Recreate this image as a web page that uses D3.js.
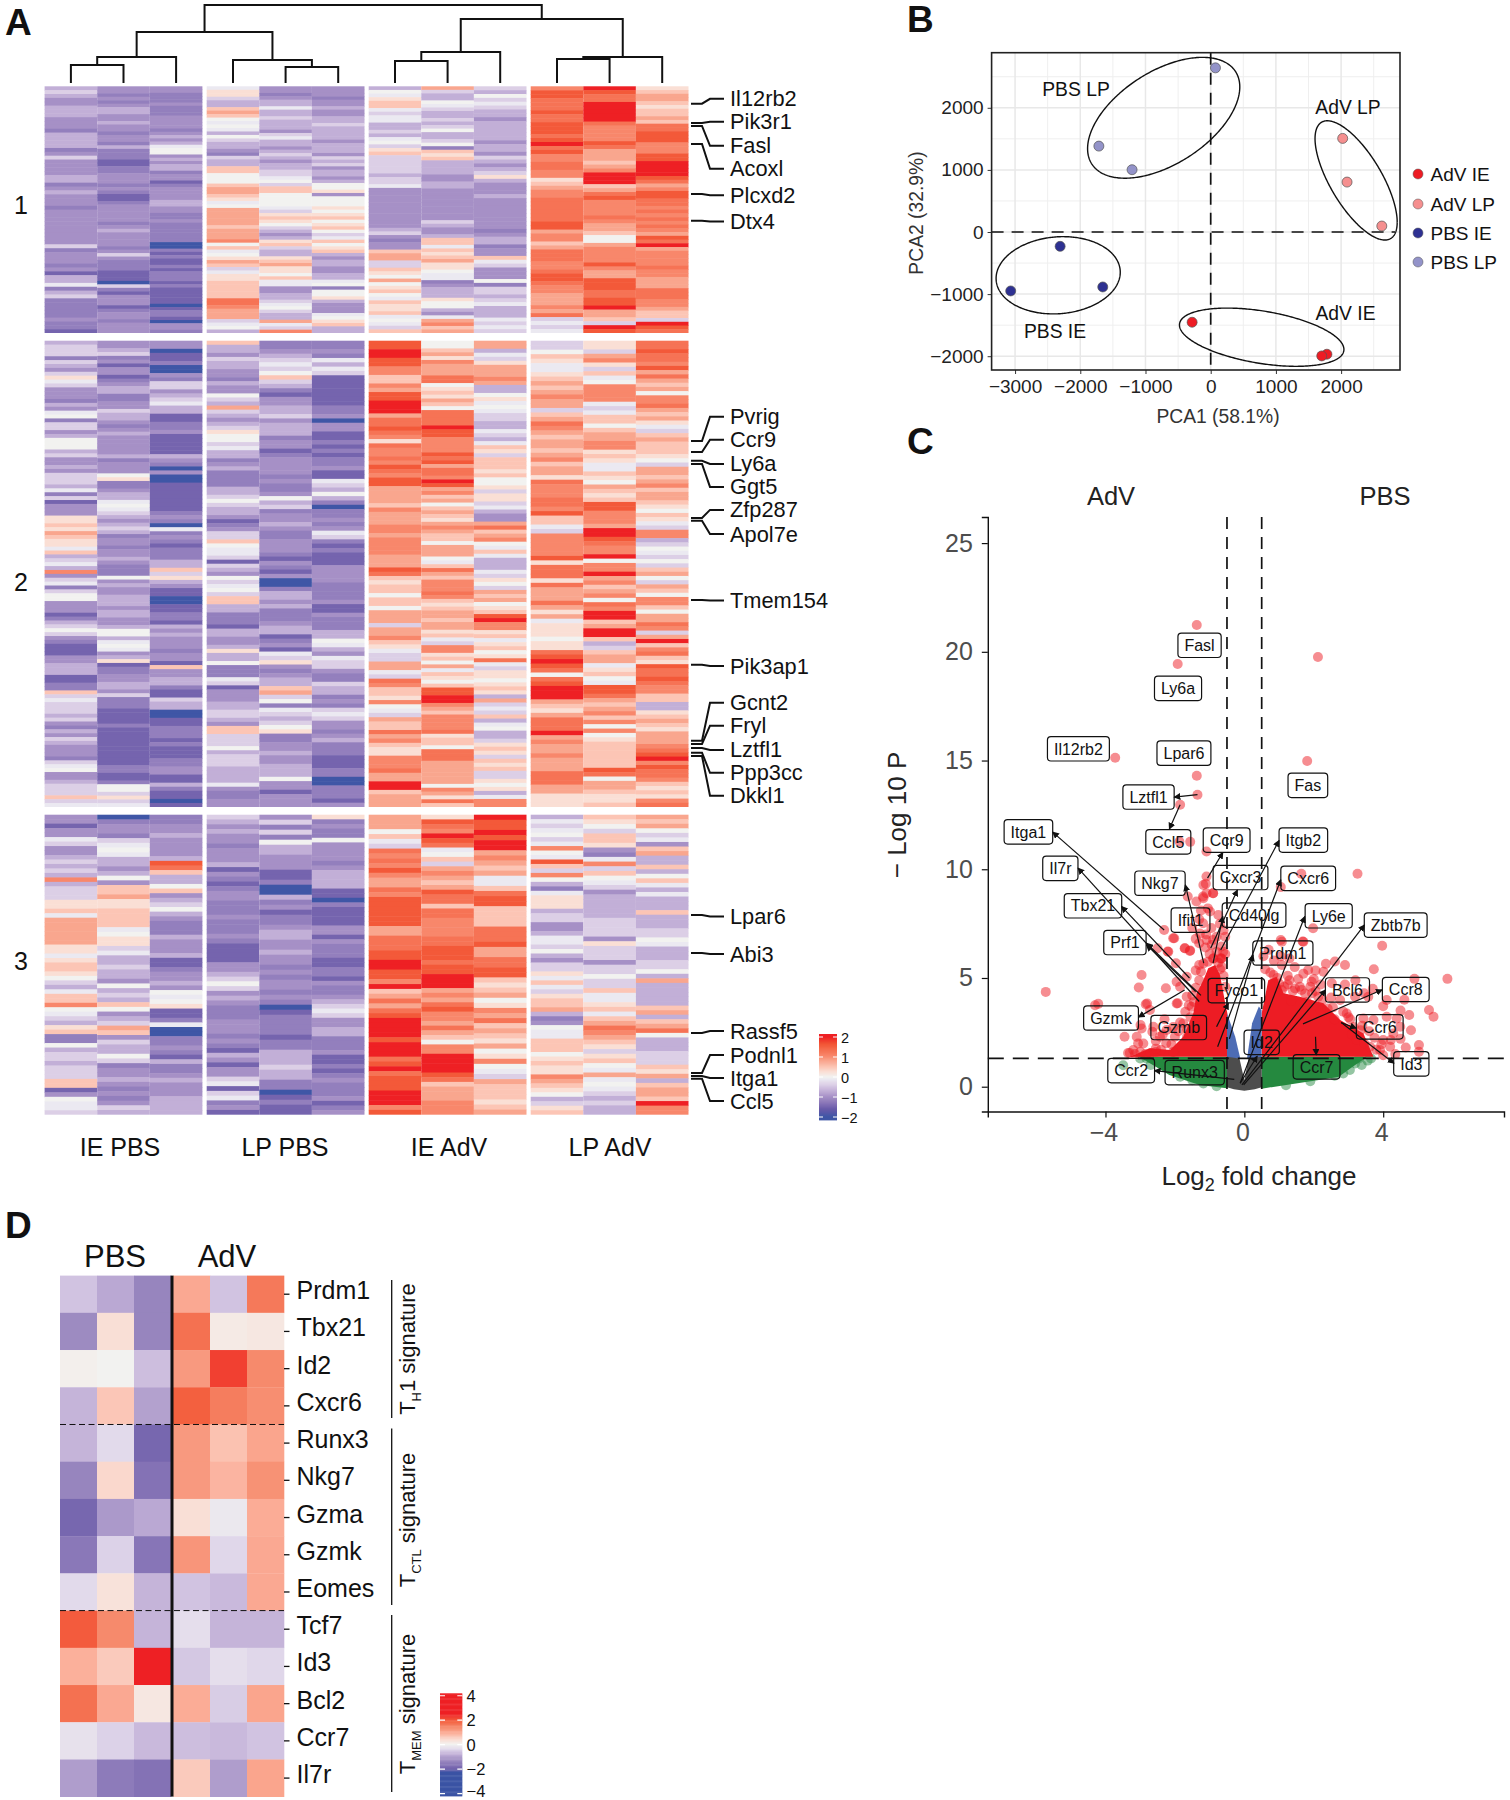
<!DOCTYPE html>
<html><head><meta charset="utf-8">
<style>html,body{margin:0;padding:0;background:#fff}svg{display:block}text{font-family:"Liberation Sans",Arial,sans-serif}</style>
<script src="https://cdn.jsdelivr.net/npm/d3@7/dist/d3.min.js"></script>
</head><body><svg id="fig" width="1510" height="1800"></svg>
<script>
// ---------- Panel A data: z-score levels read per column, top to bottom ----------
const levelValues = {a:-2,b:-1.5,c:-1.2,d:-1,e:-.7,f:-.4,g:-.12,h:0,i:.25,j:.5,k:.8,l:1.05,m:1.3,n:1.6,o:2};
const heatGroups = ["IE PBS","LP PBS","IE AdV","LP AdV"];
const cluster1 = [
"efeddeeedddceeeecdfddddeecdedddcdddddddddfcdddcdbeegcefcccccdccb",
"ddcdcdeeddeddcddcecccbbccdddcdcbbcdddddcdeddddcdfdcccbbbafcbdddbcddcddd",
"ddcccdcccddddcdedeghhdedeecddbcddddeeddccdccccccaacbcbbcbcccbcbbbbbabccbaddc",
"giifeejkjhghgehfeedcfeejjhhhjkkjighkkkkkjkkklhjghikjfgiijjjjjmmlkkkfghe",
"ddcdeegeefeeedfgeedefedeeffghfjjhhhhgfijihfedeijfeeijkiihjggddeefghfeekgfl",
"dddcddeddeefeeeedeeedfefdeedehhidhhhihijhijhfgjhijedeeddeeghchhiedddghijee",
"ehgijjgfggeefeghfijfffffeffgdddddddddddefdcddjkkffjihkhijhgjiijghgfj",
"kfeehgfeefefheefhcjijeeeeddeedddddddddfeddejjgjijkiihggcdeeeihhedgkljk",
"fehfgfeedeeeeedeedfedefiedddeddddddddcdeecddjgfdddhcffefgeeegfgf",
"lnnmmmnmmnnnmnomnllmmllijkllmmmmmmnnklljkmmmllmnnmllkkklkmfgfg",
"onmmooooomllllnmkkkjklooojkmnllllmlkkjhhkllllnlkknnnmmnnokkjfon",
"ijkkjijjkjmmnnnlllnnoooonmklnnmmlmlmlmlknmokllllmllkkkmmmllkjjfonm"
];
const cluster2 = [
"efffcfedfigfdddcedghcffdehhhefddedfffegcfbdddiijikjiigjefgeldfgcfhhdddbcefhfdcbbbddeeebbccjfgfffefdcedfedddcfghddefffjfg",
"ddefcdbddbcdeeccddfeedcdedddddecdddhiccdeeghgfedefecddcddedccchdeddeeedeeddehheghgdeibccddeedfcccbbbbcbbbbbbbbbbccbbchhfifg",
"ddabbcaadcffdefgeebbccdbbbbbedcadaabbbbbbbcdcagcdcbccceejfiedbbaabbccbededddcddbjddeecbbfeeaabbcccbcbbbccddbbecbbab",
"jeedfeeddceddhfekfedefihhfgeecdecccceefhfeedbcdffjhggfbfedhfghfjjeecccbeeddeieehcccgfbdddeeffedjjfffhefffeeeegdccdd",
"ccdefgfhjfecbddeefdeeecddbcddddcdccdhefcddedccdddcbdcbdaaceedecccdeebcdbgfidcdeejkfhcgfefhiccddeddeeehddbddd",
"ccdcgegfbbbbbbbccdaddbbcbcbccdbbgfehecaccdcdgfcbcbbbddddccccdbbdccceehgedgffdccfeecdcfgfddcdecccbbbccaacccbd",
"nnoonnlljjlknnoookmmnmlimllmlnmlnnkkkkjlkkkllkllllkkknmjijjhjjhkkkfkkljigffkkgfmljjilhgfkjjmkljiilllmkkoojkkk",
"hhjkilkkkmmhijikjhmmmmonnllllnmnkmmlonkljkhjkjiklkjjhkkkhgjmkjlllmljijkkjkkijgfllijhkgjihjnnoolkjllllmijjhmmmkkkkkkhlkimj",
"kkegfikkklkeehighgffeegfegjifjjjijhhifiifgeddkmjklhgjgeeegfihfkjkhijnollijgijhimgfiihijiekfgfjegheefijifjijffihiegll",
"ffhjiggijkjklkkfjkmlkjkkjkljkkimlllmmlnjjgflllllnimmmimkkkmkikgiiihiimnonmhmnoookjikmmmoklkklkkkmmmkkiii",
"iifklifjghllllgfgjjhjkkllijiggjihkjijnnlllkoonmllohllokljklhmloojkoojefjkkgijhgnnmkjkljlhlhijjjjjjnmhkkjiij",
"mmnmmlnkmkjkhllmkjkigfjkjjjihfkkjkljkkjihjigfllefhgfhfjkhfkjhlljhkkmlfkojlmjinmmnmlljjeeijkjikkklmnolnmmljijilm"
];
const cluster3 = [
"ddbddgfddefefelefffiijgkkkkkkiigijjihfegjjlhgfeijccheffefffjjbdhggf",
"acddcfghgeedehdjjkiijjjjghiifgeefeedhefejhdefkjdfeehfcddedcdcdfe",
"ccddeddddenmjeehjdefhedcccedddebbcddedhghibbcgaaccdcbeccdedddeeee",
"fededdcdddebdcbcddcccdcccdcbbbbddefhfdedcccdddcdcbedbddfgbfgcdb",
"dfcfcheedddbbcaaecdbccdeeddeddcdcddcdcabccccbcceeefeeccabcbb",
"icdcchddddcdeeeebbacbbbbddbdcccbbccbdccdefgfddeecccdbbcbcdcccdbcd",
"kkkhjgfmlmlnlkkmlnnnnnnkkmmmnnoonnlojkmkmnoooonooomnomnnnoooln",
"inmlonmghjfklkjknmmjmmllllmmnnnmnnoooklkmnllkmkjhlloooonmjkkklll",
"onnonooklkjkggjmnnjjjjmmmnkkmmnnjijkhilkmjkjikhilhgfkjjjijk",
"egfghfglhgnjflhecgiiieffddeggfhedffigjgfijjkecdhggjjjhijiilkjihefij",
"jihfjjidcglfjhgfdeeeeeffffdifffdffhffjggijgjkmlkjifijhgkghgfefee",
"kjkhfgdjkeejehjgegeeejeeeffhgeeeffhekeeeeejkejkmheeefffjikejkkjoll"
];

const geneLabelsA = ["Il12rb2","Pik3r1","Fasl","Acoxl","Plcxd2","Dtx4","Pvrig","Ccr9","Ly6a","Ggt5","Zfp287","Apol7e","Tmem154","Pik3ap1","Gcnt2","Fryl","Lztfl1","Ppp3cc","Dkkl1","Lpar6","Abi3","Rassf5","Podnl1","Itga1","Ccl5"];
// dendrogram merges: [left node, right node, height]; nodes 0-11 are leaves
const dendroMerges = [[0,1,18],[12,2,26],[4,5,16],[3,14,23],[13,15,51],[6,7,22],[17,8,31],[9,10,24],[19,11,26],[18,20,64],[16,21,78]];

// ---------- Panel B data ----------
const pcaGroups = ["AdV IE","AdV LP","PBS IE","PBS LP"];
const pcaX = {"AdV IE":[-285,1782,1703],"AdV LP":[2024,2091,2624],"PBS IE":[-2309,-3067,-1655],"PBS LP":[73,-1715,-1206]};
const pcaY = {"AdV IE":[-1453,-1968,-1995],"AdV LP":[1507,804,96],"PBS IE":[-231,-949,-885],"PBS LP":[2643,1383,1003]};
// ellipse: centre x, centre y, half-width, half-height, correlation
const pcaEllipses = {"AdV IE":[782,-1694,1261,469,-.42],"AdV LP":[2230,831,630,960,-.7],"PBS IE":[-2339,-697,952,622,.08],"PBS LP":[-721,1839,1167,973,.51]};

// ---------- Panel C data ----------
const redX = [-1.37,2.12,-1.92,-3.72,1.81,-1.37,-1.35,-1.85,-1.56,-1.87,-1.09,-1.09,3.26,1.64,1.05,-1.11,-.9,-1.19,-1.38,-1.63,-.99,1.98,-2.31,-2.02,-1.72,-1.56,-2.5,-2.21,-1.19,-1.28,-.9,-.66,-.66,-.9,3.97,-1.97,1.68,1.05,2.61,2.9,3.73,5.85,4.9,-2.96,-3.04,-2.26,-5.72,-4.21,-4.3,-2.84,-1.92,-2.99,-3.45,-2.65,5.32,5.45,5.03,5.03,4.61,4.22,-2.05,-2.19,-1.71,-1.57,-1.95,-1.66,-1.18,-.89,-.66,-.61,-2.8,-1.95,-2.72,-2.96,-2.62,-3.2,-3.06,-2.91,-2.43,-2.24,-1.76,-1.52,-1.66,-1.85,-1.09,-.94,-1.09,-.9,-1.18,-1.18,1.08,1.7,1.08,1.84,2.28,1.94,1.46,1.08,1.75,2.13,2.52,2.76,3.19,3.57,2.95,3.43,3.72,4.1,4.39,4.29,4,4.2,3.91,3.62,3.24,4.49,4.1,.84,.84,-3.3,-2.55,-2.05,-1.65,-1.4,-.75,-.7,1.3,1.9,2.4,3.0,3.35,.95,1.25,1.6,2.05,
 -1.3,-.7,-.95,-1.05,-1.25,-.8,-1.4,-.55,-.75,-1.5,-.6,-1.1,-1.3,-.55,.55,.7,.85,1.3,.6,1.05,1.45,2.05,2.35,1.7,2.2,2.9,3.2,3.45,3.7,4,4.5,4.75,4.8,4.5,4.65,4.35,4,3.8,
 1.15,1.4,1.65,1.95,2.25,2.5,2.55,2.85,3.05,3.15,3.4,3.6,3.75,3.95,3.45,3.1,2.6,2.2,1.8,1.35,1,.75,1.25,1.55,2,
 -3.35,-3.15,-3,-2.85,-2.7,-2.55,-2.4,-2.25,-2.1,-2,-1.9,-2.05,-1.85,-1.65,-1.55,-1.7,-1.45,-1.6,-1.4,-1.5,-1.3,-1.25,-1.4,-1.05,-1,-.8,-.65,-.6,-.55,-.7,-2.35,-2.55,-3.1,-2.3,-1.3,-1.12];
const redY = [21.23,19.76,19.44,15.13,14.98,14.3,13.43,12.97,11.26,11.28,10.82,9.67,9.79,9.79,9.18,9.33,8.9,8.75,8.52,8.75,8.06,7.29,7.21,6.83,6.37,6.26,6.37,6.22,7.52,7.05,6.75,6.45,5.9,5.9,6.48,5.68,6.68,6.75,5.76,5.6,5.4,4.96,4.96,5.14,4.56,4.53,4.36,3.81,3.75,3.79,3.84,2.84,2.3,2.53,3.53,3.22,1.92,1.61,4,2.15,6.83,6.21,6.37,6.24,4.83,5.06,5.67,5.9,5.9,6.21,3.83,3.83,3.53,2.68,2.76,1.69,1.99,1.99,2.3,2.61,2.91,3.68,4.14,4.6,6.75,6.52,8.9,8.9,8.67,9.28,6.67,6.67,5.6,5.37,5.29,4.83,4.52,4.45,4.29,4.14,4.76,3.99,4.14,4.14,3.37,3.14,3.07,3.22,3.14,2.45,2.15,1.84,1.69,1.84,2.15,2.76,3.99,4.6,5.14,1.55,1.6,1.6,2.3,2.9,5.7,5.4,4.9,4.6,3.6,3.2,2.6,5,4.7,4.6,4.4,
 7.7,7.5,7.3,8.2,8.1,6.9,6.8,6.9,7.9,7.3,7.2,7,6.6,6.1,6,6.3,5.8,5.9,5.4,6,5.5,5.35,5.65,5.2,4.7,4.7,4.9,4.3,4.5,3.7,3.5,3.3,2.6,2.2,1.8,1.5,1.45,1.7,
 4.6,4.4,4.45,4.3,4,4.1,3.65,3.45,3.1,2.75,2.8,2.55,2.25,1.95,2,2.4,3.1,3.5,3.9,3.95,4.75,5.25,5.1,4.95,4.95,
 1.55,1.5,1.6,1.5,1.55,2.1,1.7,2,1.95,2.3,2.55,2.75,2.95,2.65,3.2,3.45,3.9,3.75,4.55,4.2,4.9,5.3,5.35,5.75,6.1,6.2,5.5,5.1,4.6,5.9,2.4,1.75,2.3,3.1,5.6,6.4];
const redLeftCoreX = [-3.3,-2.72,-2.14,-1.76,-1.47,-1.37,-1.18,-1.04,-.84,-.7,-.55,-.49,-.49];
const redLeftCoreY = [1.38,1.77,1.69,2.3,3.38,4.3,4.91,5.45,5.6,5.14,3.84,3.38,1.38];
const redRightCoreX = [.5,.5,.69,.93,1.13,1.6,2.28,2.76,3.43,3.72];
const redRightCoreY = [1.38,3.38,4.9,5.06,4.3,4.14,3.84,3.07,2.45,1.38];
const greenLeftX = [-3.04,-2.55,-2.16,-1.29,-.5,-.5];
const greenLeftY = [1.38,.92,.54,.08,-.07,1.38];
const greenRightX = [.497,1.44,2.71,3.1,3.54,.497];
const greenRightY = [-.09,.14,.45,.9,1.38,1.38];
const greenX = [3.19,3.38,3.04,2.85,-3.49,-2.82,-2.48,-1.85,-2.19,-1.18,3.3,2.6,-3,-2.7,-1.5,3.55,3.65,1.9,1.2,-.8];
const greenY = [1.07,1,.77,.61,.99,1.3,1.15,.46,.92,.15,1.3,.5,1.3,1,.3,1.2,1.3,.25,.07,.02];
const blueLeftX = [-.5,-.5,-.263,-.117];
const blueLeftY = [1.3,3.38,2.3,1.3];
const blueRightX = [.418,.497,.497,.078,.224];
const blueRightY = [3.69,3.53,1.3,1.3,2.92];
const grayX = [-.5,-.14,0,.12,.5,.5,.3,0,-.3,-.5];
const grayY = [1.38,1.3,.3,1.3,1.38,-.02,-.12,-.19,-.12,-.02];
const volcanoLabels = ["Fasl","Ly6a","Il12rb2","Lpar6","Fas","Lztfl1","Itga1","Ccl5","Ccr9","Itgb2","Il7r","Nkg7","Cxcr3","Cxcr6","Tbx21","Ifit1","Cd40lg","Ly6e","Zbtb7b","Prf1","Prdm1","Fyco1","Bcl6","Ccr8","Gzmk","Gzmb","Ccr6","Id2","Ccr2","Runx3","Ccr7","Id3"];
const volcanoLabelX = [-1.29,-1.91,-4.78,-1.74,1.83,-2.76,-6.22,-2.19,-.51,1.7,-5.3,-2.43,-.11,1.84,-4.36,-1.55,.28,2.43,4.36,-3.44,1.11,-.23,2.97,4.65,-3.84,-1.89,3.9,.5,-3.26,-1.43,2.08,4.81];
const volcanoLabelY = [20.3,18.32,15.54,15.34,13.86,13.32,11.72,11.26,11.34,11.34,10.04,9.36,9.62,9.58,8.32,7.66,7.89,7.86,7.43,6.63,6.15,4.42,4.45,4.47,3.16,2.72,2.75,2.04,.74,.65,.91,1.05];
// arrows: point x, point y, head x, head y
const volcanoArrows = [[-1.35,13.43,-2.02,13.32],[-1.85,12.97,-2.16,11.85],[-2.31,7.21,-5.52,11.71],[-1.06,9.59,-.62,10.77],[-.68,6.29,1,11.32],[-1.3,3.92,-4.79,10.05],[-1.58,5,-3.54,8.29],[-1.4,4.38,-2.82,6.52],[-1.25,4.2,-2.82,6.6],[-1.17,5.68,-1.7,9.28],[-.97,6.37,-.2,9.05],[-.9,5.68,-.62,7.83],[-.77,1.84,1.05,9.52],[-.8,2.76,-.46,3.84],[-.43,2.2,.25,6.06],[-.12,.16,1.74,7.83],[-.07,.08,3.46,7.44],[-.02,.08,2.34,4.45],[-.12,.16,.37,1.4],[1.69,2.89,3.97,4.46],[2.79,2.95,3.22,2.69],[2.79,2.95,4.31,1.08],[2.05,2.3,2.07,1.46],[-1.72,4.45,-3.05,3.2],[-.29,.34,-2.59,.74]];

// ---------- Panel D data ----------
const markerGenes = ["Prdm1","Tbx21","Id2","Cxcr6","Runx3","Nkg7","Gzma","Gzmk","Eomes","Tcf7","Id3","Bcl2","Ccr7","Il7r"];
const markerPBS = [[-.6,-.9,-1.4],[-1.3,.35,-1.4],[.05,0,-.65],[-.75,.65,-1],[-.75,-.35,-1.9],[-1.4,.45,-1.7],[-1.9,-1.1,-.9],[-1.6,-.45,-1.65],[-.35,.3,-.75],[1.95,1.4,-.75],[.9,.6,2.6],[1.7,1,.2],[-.25,-.45,-.7],[-1.05,-1.55,-1.7]];
const markerAdV = [[1,-.6,1.6],[1.7,.15,.2],[1.2,2.2,1.4],[1.9,1.55,1.35],[1.2,.7,1.05],[1.2,.85,1.3],[.35,-.15,.95],[1.25,-.4,1],[-.6,-.7,1],[-.3,-.75,-.75],[-.55,-.3,-.4],[.95,-.5,1.05],[-.65,-.7,-.6],[.6,-1.05,1.05]];

// ---------- shared ----------
const svg = d3.select("#fig");
const INK="#111", GRAY="#4d4d4d";
const zA = d3.scaleLinear()
 .domain([-2,-1.6,-1.3,-1,-.7,-.4,-.12,0,.25,.5,.8,1.05,1.35,1.65,2])
 .range(["#3f56a6","#6a5aa9","#8a77b8","#a690c6","#c2afd7","#dccfe6","#ebe9f1","#f2f2f0","#fadfd5","#fcc5b5","#f9a68e","#f8876b","#f56f50","#f25535","#ee2024"]).clamp(true);
function letter(t,x,y){svg.append("text").attr("x",x).attr("y",y).attr("font-size",37).attr("font-weight","bold").attr("fill",INK).text(t);}
letter("A",5,35);letter("B",907,32);letter("C",907,454);letter("D",5,1238);

// ---------- Panel A ----------
const A = svg.append("g");
const groupLeft = [44.6,206.7,368.7,530.7], colW = 52.6;
const colX = j => groupLeft[Math.floor(j/3)] + (j%3)*colW;
const clusters = [{cols:cluster1,top:86.3,bottom:333,label:"1",ly:205},{cols:cluster2,top:340.7,bottom:807,label:"2",ly:582},{cols:cluster3,top:814.7,bottom:1114.7,label:"3",ly:961}];
clusters.forEach(c=>{
  c.cols.forEach((s,j)=>{
    const vals = Array.from(s,ch=>levelValues[ch]);
    const y = d3.scaleLinear().domain([0,vals.length]).range([c.top,c.bottom]);
    A.append("g").selectAll("rect").data(vals).join("rect")
     .attr("x",colX(j)).attr("width",colW).attr("y",(d,i)=>y(i)).attr("height",(d,i)=>y(i+1)-y(i)+(i<vals.length-1?.5:0))
     .attr("fill",d=>zA(d));
  });
  A.append("text").attr("x",21).attr("y",c.ly+9).attr("text-anchor","middle").attr("font-size",25).attr("fill",INK).text(c.label);
});
heatGroups.forEach((g,i)=>{
  A.append("text").attr("x",[120,285,449,610][i]).attr("y",1156).attr("text-anchor","middle").attr("font-size",25).attr("fill",INK).text(g);
});
// dendrogram
const dendroY = d3.scaleLinear().domain([0,78]).range([83,5]);
const nodePos = d3.range(12).map(j=>({x:colX(j)+colW/2,h:0}));
dendroMerges.forEach(([l,r,h])=>{
  const a=nodePos[l], b=nodePos[r];
  A.append("path").attr("fill","none").attr("stroke",INK).attr("stroke-width",2)
   .attr("d",`M${a.x},${dendroY(a.h)}V${dendroY(h)}H${b.x}V${dendroY(b.h)}`);
  nodePos.push({x:(a.x+b.x)/2,h});
});
// gene labels
const labelRowY = [103.7,123,126,144,194,220.7,441,452,460.7,464,518,520.7,600,664.7,740.7,744,748,752.7,756,915,953,1033,1073,1076,1078.7];
const labelTextY = [98.8,121.7,145.8,168.8,195.2,221.6,416.8,439.8,463.9,486.9,509.9,534,600.6,666,702.8,725.7,749.9,772.8,795.8,916.4,954,1031,1055,1078,1101];
geneLabelsA.forEach((g,i)=>{
  const y0=labelRowY[i],y1=labelTextY[i];
  A.append("path").attr("fill","none").attr("stroke",INK).attr("stroke-width",2)
   .attr("d",`M691,${y0}H702L710,${y1}H724`);
  A.append("text").attr("x",730).attr("y",y1+7.5).attr("font-size",21.8).attr("fill",INK).text(g);
});
// colour bar A
const cbA = d3.scaleLinear().domain([2.15,-2.15]).range([1034,1120]);
A.append("g").selectAll("rect").data(d3.range(-2.15,2.15,.05)).join("rect")
 .attr("x",819).attr("width",18).attr("y",d=>cbA(d+.05)).attr("height",cbA(0)-cbA(.05)+.4).attr("fill",d=>zA(d));
[2,1,0,-1,-2].forEach(t=>{
  A.append("path").attr("stroke","#fff").attr("stroke-width",1.2).attr("d",`M819,${cbA(t)}h4M837,${cbA(t)}h-4`);
  A.append("text").attr("x",841).attr("y",cbA(t)+5.5).attr("font-size",14.5).attr("fill",INK).text(t<0?"\u2212"+(-t):t);
});

// ---------- Panel B ----------
const B = svg.append("g");
const bx = d3.scaleLinear().domain([-3360,2903]).range([991.6,1400]);
const by = d3.scaleLinear().domain([-2222,2887]).range([370,52.7]);
const bXMaj=d3.range(-3000,2001,1000), bXMin=d3.range(-2500,2501,1000), bYMaj=d3.range(-2000,2001,1000), bYMin=d3.range(-1500,2501,1000);
bXMin.forEach(v=>B.append("line").attr("x1",bx(v)).attr("x2",bx(v)).attr("y1",52.7).attr("y2",370).attr("stroke","#efefef").attr("stroke-width",1));
bYMin.forEach(v=>B.append("line").attr("y1",by(v)).attr("y2",by(v)).attr("x1",991.6).attr("x2",1400).attr("stroke","#efefef").attr("stroke-width",1));
bXMaj.forEach(v=>B.append("line").attr("x1",bx(v)).attr("x2",bx(v)).attr("y1",52.7).attr("y2",370).attr("stroke","#e8e8e8").attr("stroke-width",1.5));
bYMaj.forEach(v=>B.append("line").attr("y1",by(v)).attr("y2",by(v)).attr("x1",991.6).attr("x2",1400).attr("stroke","#e8e8e8").attr("stroke-width",1.5));
B.append("line").attr("x1",bx(0)).attr("x2",bx(0)).attr("y1",52.7).attr("y2",370).attr("stroke",INK).attr("stroke-width",1.7).attr("stroke-dasharray","12 8");
B.append("line").attr("y1",by(0)).attr("y2",by(0)).attr("x1",991.6).attr("x2",1395).attr("stroke",INK).attr("stroke-width",1.7).attr("stroke-dasharray","12 8");
const ax = B.append("g").attr("transform","translate(0,370)").call(d3.axisBottom(bx).tickValues(bXMaj).tickFormat(d3.format("d")).tickSize(4).tickPadding(6));
const ay = B.append("g").attr("transform","translate(991.6,0)").call(d3.axisLeft(by).tickValues(bYMaj).tickFormat(d3.format("d")).tickSize(4).tickPadding(4));
[ax,ay].forEach(g=>{g.select(".domain").remove();g.selectAll("line").attr("stroke","#333");g.selectAll("text").attr("font-size",19).attr("fill","#222").attr("font-family",'"Liberation Sans"');});
B.append("rect").attr("x",991.6).attr("y",52.7).attr("width",408.4).attr("height",317.3).attr("fill","none").attr("stroke","#222").attr("stroke-width",1.6);
const pcaColor = {"AdV IE":"#ed1c24","AdV LP":"#f58f8f","PBS IE":"#2e3192","PBS LP":"#9393c9"};
pcaGroups.forEach(g=>{
  const [cx,cy,hx,hy,r]=pcaEllipses[g];
  const pts=d3.range(0,2*Math.PI+.02,.02).map(t=>[bx(cx+hx*Math.cos(t)),by(cy+hy*(r*Math.cos(t)+Math.sqrt(1-r*r)*Math.sin(t)))]);
  B.append("path").attr("d",d3.line()(pts)).attr("fill","none").attr("stroke","#111").attr("stroke-width",1.4);
  B.append("g").selectAll("circle").data(pcaX[g]).join("circle").attr("cx",d=>bx(d)).attr("cy",(d,i)=>by(pcaY[g][i])).attr("r",5).attr("fill",pcaColor[g]).attr("stroke","#555").attr("stroke-width",.7);
});
[["PBS LP",1076,96],["AdV LP",1348,113.5],["AdV IE",1345.5,320],["PBS IE",1055,338]].forEach(([t,x,y])=>B.append("text").attr("x",x).attr("y",y).attr("text-anchor","middle").attr("font-size",19.3).attr("fill",INK).text(t));
pcaGroups.forEach((g,i)=>{
  const y=[174,204,233,262][i];
  B.append("circle").attr("cx",1418).attr("cy",y).attr("r",5).attr("fill",pcaColor[g]).attr("stroke","#555").attr("stroke-width",.5);
  B.append("text").attr("x",1430.5).attr("y",y+7).attr("font-size",19).attr("fill",INK).text(g);
});
B.append("text").attr("x",1218).attr("y",423).attr("text-anchor","middle").attr("font-size",19.3).attr("fill","#333").text("PCA1 (58.1%)");
B.append("text").attr("transform","translate(923,213) rotate(-90)").attr("text-anchor","middle").attr("font-size",19.3).attr("fill","#333").text("PCA2 (32.9%)");

// ---------- Panel C ----------
const C = svg.append("g");
const cx = d3.scaleLinear().domain([-7.39,7.48]).range([987.8,1504]);
const cy = d3.scaleLinear().domain([-1.14,26.2]).range([1111.5,517]);
const poly = (xs,ys)=>d3.line().x(d=>cx(d[0])).y(d=>cy(d[1]))(xs.map((v,i)=>[v,ys[i]]))+"Z";
C.append("g").selectAll("circle").data(greenX).join("circle").attr("cx",d=>cx(d)).attr("cy",(d,i)=>cy(greenY[i])).attr("r",5).attr("fill","#2a8c45").attr("opacity",.5);
C.append("path").attr("d",poly(greenLeftX,greenLeftY)).attr("fill","#25893f");
C.append("path").attr("d",poly(greenRightX,greenRightY)).attr("fill","#25893f");
C.append("path").attr("d",poly(redLeftCoreX,redLeftCoreY)).attr("fill","#ed1c24");
C.append("path").attr("d",poly(redRightCoreX,redRightCoreY)).attr("fill","#ed1c24");
C.append("g").selectAll("circle").data(redX).join("circle").attr("cx",d=>cx(d)).attr("cy",(d,i)=>cy(redY[i])).attr("r",5).attr("fill","#ed1c24").attr("opacity",.5);
C.append("path").attr("d",poly(blueLeftX,blueLeftY)).attr("fill","#4d6cb5");
C.append("path").attr("d",poly(blueRightX,blueRightY)).attr("fill","#4d6cb5");
C.append("path").attr("d",poly(grayX,grayY)).attr("fill","#4d4d4d");
[-.5,.5].forEach(v=>C.append("line").attr("x1",cx(v)).attr("x2",cx(v)).attr("y1",517).attr("y2",1111.5).attr("stroke",INK).attr("stroke-width",1.7).attr("stroke-dasharray","12 8"));
C.append("line").attr("y1",cy(1.3)).attr("y2",cy(1.3)).attr("x1",987.8).attr("x2",1508).attr("stroke",INK).attr("stroke-width",1.7).attr("stroke-dasharray","16 9");
svg.append("defs").append("marker").attr("id","ah").attr("viewBox","0 0 8 8").attr("refX",7).attr("refY",4).attr("markerWidth",7).attr("markerHeight",7).attr("orient","auto").attr("markerUnits","userSpaceOnUse")
 .append("path").attr("d","M0,0L8,4L0,8Z").attr("fill",INK);
C.append("g").selectAll("line").data(volcanoArrows).join("line")
 .attr("x1",d=>cx(d[0])).attr("y1",d=>cy(d[1])).attr("x2",d=>cx(d[2])).attr("y2",d=>cy(d[3]))
 .attr("stroke",INK).attr("stroke-width",1.2).attr("marker-end","url(#ah)");
volcanoLabels.forEach((t,i)=>{
  const g=C.append("g").attr("transform",`translate(${cx(volcanoLabelX[i])},${cy(volcanoLabelY[i])})`);
  const tx=g.append("text").attr("text-anchor","middle").attr("y",5.7).attr("font-size",16).attr("fill",INK).text(t);
  const w=tx.node().getComputedTextLength()+13;
  g.insert("rect","text").attr("x",-w/2).attr("y",-12.2).attr("width",w).attr("height",24.4).attr("rx",3.5).attr("fill","none").attr("stroke",INK).attr("stroke-width",1.2);
});
const cax = C.append("g").attr("transform","translate(0,1111.5)").call(d3.axisBottom(cx).tickValues([-4,0,4]).tickSize(6).tickPadding(6));
const cay = C.append("g").attr("transform","translate(987.8,0)").call(d3.axisLeft(cy).tickValues([0,5,10,15,20,25]).tickSize(6).tickPadding(9));
[cax,cay].forEach(g=>{g.select(".domain").attr("stroke","#111").attr("stroke-width",1.4);g.selectAll("line").attr("stroke","#111").attr("stroke-width",1.2);g.selectAll("text").attr("font-size",25).attr("fill",GRAY).attr("font-family",'"Liberation Sans"');});
cax.selectAll("text").attr("x",-2);
C.append("text").attr("x",1111).attr("y",505).attr("text-anchor","middle").attr("font-size",25.5).attr("fill","#222").text("AdV");
C.append("text").attr("x",1385).attr("y",505).attr("text-anchor","middle").attr("font-size",25.5).attr("fill","#222").text("PBS");
const xt=C.append("text").attr("x",1259).attr("y",1185).attr("text-anchor","middle").attr("font-size",26).attr("fill","#222");
xt.append("tspan").text("Log");xt.append("tspan").attr("dy",6).attr("font-size",18).text("2");xt.append("tspan").attr("dy",-6).text(" fold change");
C.append("text").attr("transform","translate(906,815) rotate(-90)").attr("text-anchor","middle").attr("font-size",26).attr("fill","#222").text("\u2212 Log 10 P");

// ---------- Panel D ----------
const D = svg.append("g");
const zD = d3.scaleLinear().domain([-4,-2.25,-2.05,-1.7,-1.3,-.8,-.4,0,.4,.9,1.4,1.9,2.5,4])
 .range(["#3a53a4","#3a53a4","#6e5fab","#8472b5","#9d8bc1","#c1afd7","#e0d7ea","#f2f2f0","#fadcd2","#fbb09b","#f68a6c","#f3603f","#ee2024","#ee2024"]).clamp(true);
const dRows = d3.scaleBand().domain(markerGenes).range([1275.6,1796.7]);
const pbsX = d3.scaleBand().domain([0,1,2]).range([60,171]);
const advX = d3.scaleBand().domain([0,1,2]).range([173,284]);
[[markerPBS,pbsX],[markerAdV,advX]].forEach(([m,x])=>{
  markerGenes.forEach((g,r)=>{
    D.append("g").selectAll("rect").data(m[r]).join("rect").attr("x",(d,i)=>x(i)).attr("y",dRows(g)).attr("width",x.bandwidth()+.3).attr("height",dRows.bandwidth()+.3).attr("fill",d=>zD(d));
  });
});
D.append("rect").attr("x",170.5).attr("width",3).attr("y",1275.6).attr("height",521).attr("fill","#111");
[4,9].forEach(r=>{const y=dRows(markerGenes[r]);D.append("line").attr("x1",60).attr("x2",284).attr("y1",y).attr("y2",y).attr("stroke",INK).attr("stroke-width",1).attr("stroke-dasharray","6 3.5");});
markerGenes.forEach(g=>{
  const y=dRows(g)+dRows.bandwidth()/2;
  D.append("line").attr("x1",284).attr("x2",289.5).attr("y1",y).attr("y2",y).attr("stroke",INK).attr("stroke-width",1.3);
  D.append("text").attr("x",296.5).attr("y",y+5).attr("font-size",25).attr("fill",INK).text(g);
});
D.append("text").attr("x",115).attr("y",1267).attr("text-anchor","middle").attr("font-size",31).attr("fill",INK).text("PBS");
D.append("text").attr("x",227).attr("y",1267).attr("text-anchor","middle").attr("font-size",31).attr("fill",INK).text("AdV");
[[1280,1418,"H","1 signature",1349],[1428.5,1605,"CTL"," signature",1520],[1615,1792,"MEM"," signature",1704]].forEach(([y0,y1,sub,rest,mid])=>{
  D.append("line").attr("x1",391.7).attr("x2",391.7).attr("y1",y0).attr("y2",y1).attr("stroke",INK).attr("stroke-width",1.3);
  const t=D.append("text").attr("transform",`translate(414.5,${mid}) rotate(-90)`).attr("text-anchor","middle").attr("font-size",22).attr("fill",INK);
  t.append("tspan").text("T");t.append("tspan").attr("dy",6).attr("font-size",13).text(sub);t.append("tspan").attr("dy",-6).text(rest);
});
const cbD = d3.scaleLinear().domain([4.2,-4.2]).range([1693.3,1796]);
D.append("g").selectAll("rect").data(d3.range(-4.2,4.2,.1)).join("rect").attr("x",440).attr("width",22.3).attr("y",d=>cbD(d+.1)).attr("height",cbD(0)-cbD(.1)+.4).attr("fill",d=>zD(d));
[4,2,0,-2,-4].forEach(t=>{
  D.append("path").attr("stroke","#fff").attr("stroke-width",1.2).attr("d",`M440,${cbD(t)}h5M462.3,${cbD(t)}h-5`);
  D.append("text").attr("x",466.5).attr("y",cbD(t)+(t===-4?3.5:6)).attr("font-size",16.5).attr("fill",INK).text(t<0?"\u2212"+(-t):t);
});
</script></body></html>
